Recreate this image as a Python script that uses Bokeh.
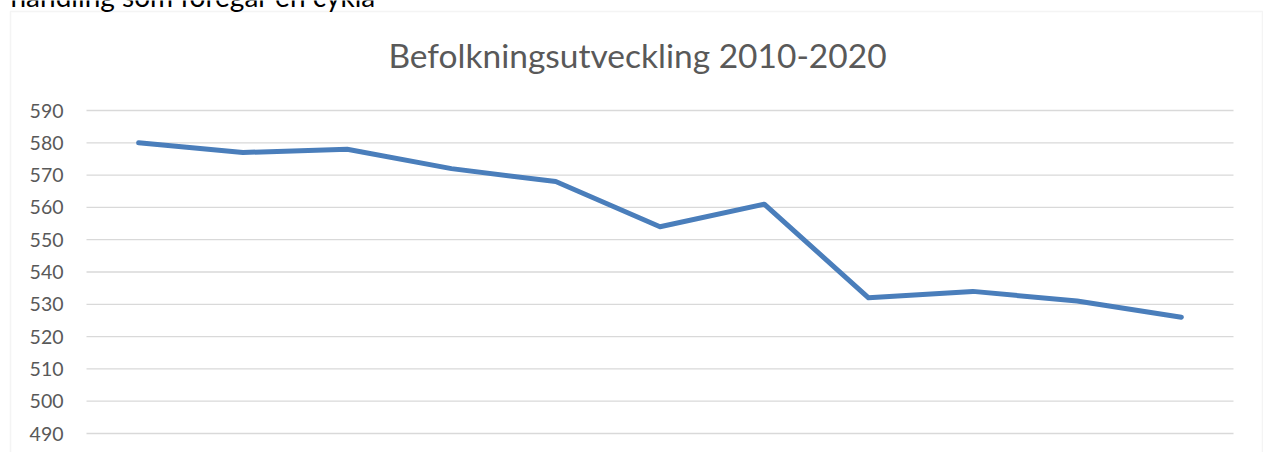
from bokeh.plotting import figure
from bokeh.models import Range1d, Label, BoxAnnotation
from bokeh.core.properties import value
from bokeh.embed import file_html
from bokeh.resources import INLINE

years = ["2010", "2011", "2012", "2013", "2014", "2015", "2016", "2017", "2018", "2019", "2020"]
population = [580, 577, 578, 572, 568, 554, 561, 532, 534, 531, 526]
y_ticks = [490, 500, 510, 520, 530, 540, 550, 560, 570, 580, 590]
y_tick_labels = [str(t) for t in y_ticks]
title_text = "Befolkningsutveckling 2010-2020"
above_text = "handling som foregår en cykla"

FONT = "Lato"
W, H = 1263, 452
PLOT_L, PLOT_R = 86, 1233          # plot area (gridlines) in pixels
step = (PLOT_R - PLOT_L) / len(years)
x_start = -0.5 - PLOT_L / step
x_end = len(years) - 0.5 + (W - PLOT_R) / step
px_per_unit = (433 - 110) / (y_ticks[-1] - y_ticks[0])
y_end = y_ticks[-1] + 110 / px_per_unit
y_start = y_ticks[0] - (H - 433) / px_per_unit

idx = list(range(len(years)))

p = figure(width=W, height=H,
           x_range=Range1d(x_start, x_end), y_range=Range1d(y_start, y_end),
           output_backend="svg", toolbar_location=None,
           min_border=0)
p.axis.visible = False
p.grid.visible = False
p.outline_line_color = None
p.background_fill_color = "white"
p.border_fill_color = "white"

# horizontal gridlines across the category span
n = len(y_ticks)
p.segment(x0=[-0.5] * n, x1=[len(years) - 0.5] * n, y0=y_ticks, y1=y_ticks,
          line_color="#d9d9d9", line_width=1.3)

# value-axis labels
p.text(x=[-0.5] * n, y=y_ticks, text=y_tick_labels, x_offset=-23,
       text_align="right", text_baseline="middle",
       text_font=value(FONT), text_font_size="19.5px", text_color="#595959")

# data line
p.line(idx, population, line_color="#4a7ebb", line_width=5,
       line_cap="round", line_join="round")

# chart box
p.add_layout(BoxAnnotation(left=10, right=1262, top=11, bottom=470,
                           left_units="canvas", right_units="canvas",
                           top_units="canvas", bottom_units="canvas",
                           fill_alpha=0, line_color="#d9d9d9", line_width=1.5))

# title
p.add_layout(Label(x=637, y=54, x_units="canvas", y_units="canvas",
                   text=title_text, text_align="center", text_baseline="alphabetic",
                   text_font=FONT, text_font_size="33.5px", text_color="#595959"))

# text of the page above the chart (cut off in the reference)
p.add_layout(Label(x=10, y=-5, x_units="canvas", y_units="canvas",
                   text=above_text, text_align="left", text_baseline="alphabetic",
                   text_font=FONT, text_font_size="28px", text_color="#000000"))

open("out.html", "w").write(file_html(p, INLINE))
